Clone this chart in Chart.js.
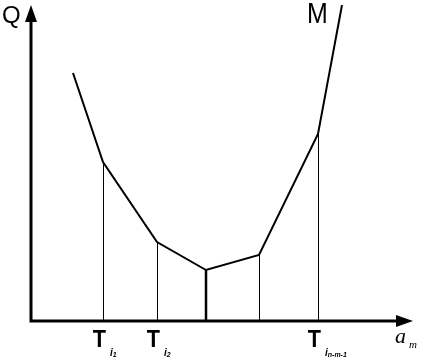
<!DOCTYPE html>
<html>
<head>
<meta charset="utf-8">
<script src="https://cdn.jsdelivr.net/npm/chart.js@4"></script>
<style>
html,body{margin:0;padding:0;background:#fff;}
canvas{display:block;}
</style>
</head>
<body>
<canvas id="c" width="422" height="364"></canvas>
<script>
// Curve vertices (a_m, Q)
const curveX = [42, 72, 126, 175, 228, 287, 311];
const curveQ = [248, 159, 79, 51, 66, 187, 316];
// Drop lines from these vertex indices; widths
const dropIdx = [1, 2, 3, 4, 5];
const dropW = [1, 1, 2.5, 1, 1];
// Tick labels on the a_m axis
const tickValues = [72, 126, 287];
const tickMain = ['T', 'T', 'T'];
const tickSub = ['1', '2', 'n-m-1'];
const yLabel = 'Q';
const curveLabel = 'M';

const overlay = {
  id: 'overlay',
  afterDatasetsDraw(chart) {
    const ctx = chart.ctx;
    const xs = chart.scales.x, ys = chart.scales.y;
    const x0 = xs.getPixelForValue(0), y0 = ys.getPixelForValue(0);
    const meta = chart.getDatasetMeta(0);
    ctx.save();
    ctx.strokeStyle = '#000';
    ctx.fillStyle = '#000';
    // drop lines
    dropIdx.forEach((i, k) => {
      const p = meta.data[i];
      ctx.lineWidth = dropW[k];
      ctx.beginPath();
      ctx.moveTo(Math.round(p.x) + (dropW[k] === 1 ? 0.5 : 0), p.y);
      ctx.lineTo(Math.round(p.x) + (dropW[k] === 1 ? 0.5 : 0), y0);
      ctx.stroke();
    });
    // axes
    ctx.lineWidth = 3;
    const xEnd = xs.right, yEnd = ys.top;
    ctx.beginPath();
    ctx.moveTo(x0, y0 + 1.5);
    ctx.lineTo(x0, yEnd + 10);
    ctx.moveTo(x0 - 1.5, y0);
    ctx.lineTo(xEnd - 10, y0);
    ctx.stroke();
    // arrows
    ctx.beginPath();
    ctx.moveTo(x0, yEnd);
    ctx.lineTo(x0 - 6, yEnd + 17);
    ctx.lineTo(x0 + 6, yEnd + 17);
    ctx.closePath();
    ctx.fill();
    ctx.beginPath();
    ctx.moveTo(xEnd, y0);
    ctx.lineTo(xEnd - 17, y0 - 6);
    ctx.lineTo(xEnd - 17, y0 + 6);
    ctx.closePath();
    ctx.fill();
    // labels
    ctx.textBaseline = 'alphabetic';
    ctx.textAlign = 'left';
    ctx.font = '24px "Liberation Sans", Arial, sans-serif';
    ctx.fillText(yLabel, 2, 23);
    ctx.save();
    ctx.translate(307, 23);
    ctx.scale(0.86, 1);
    ctx.font = '29px "Liberation Sans", Arial, sans-serif';
    ctx.fillText(curveLabel, 0, 0);
    ctx.restore();
    // ticks
    tickValues.forEach((v, k) => {
      const px = xs.getPixelForValue(v);
      ctx.save();
      ctx.translate(px + 3, 347);
      ctx.scale(0.9, 1);
      ctx.font = 'bold 24px "Liberation Sans", Arial, sans-serif';
      ctx.textAlign = 'right';
      ctx.fillText(tickMain[k], 0, 0);
      ctx.restore();
      ctx.font = 'italic bold 10px "Liberation Sans", Arial, sans-serif';
      ctx.textAlign = 'left';
      ctx.fillText('i', px + 7, 356);
      const iw = ctx.measureText('i').width;
      ctx.font = 'italic bold 7px "Liberation Sans", Arial, sans-serif';
      ctx.fillText(tickSub[k], px + 7 + iw, 357);
    });
    // a_m label
    ctx.font = 'italic 22px "Liberation Serif", "Times New Roman", serif';
    ctx.fillText('a', 395, 343);
    ctx.font = 'italic 11px "Liberation Serif", "Times New Roman", serif';
    ctx.fillText('m', 409, 348);
    ctx.restore();
  }
};

new Chart(document.getElementById('c'), {
  type: 'line',
  data: {
    datasets: [{
      data: curveX.map((x, i) => ({x: x, y: curveQ[i]})),
      borderColor: '#000',
      borderWidth: 2,
      pointRadius: 0,
      tension: 0,
      fill: false
    }]
  },
  options: {
    responsive: false,
    devicePixelRatio: 1,
    animation: false,
    layout: {padding: {left: 31, right: 9, top: 5, bottom: 43}},
    plugins: {legend: {display: false}, tooltip: {enabled: false}},
    scales: {
      x: {type: 'linear', min: 0, max: 382, display: false},
      y: {type: 'linear', min: 0, max: 316, display: false}
    }
  },
  plugins: [overlay]
});
</script>
</body>
</html>
